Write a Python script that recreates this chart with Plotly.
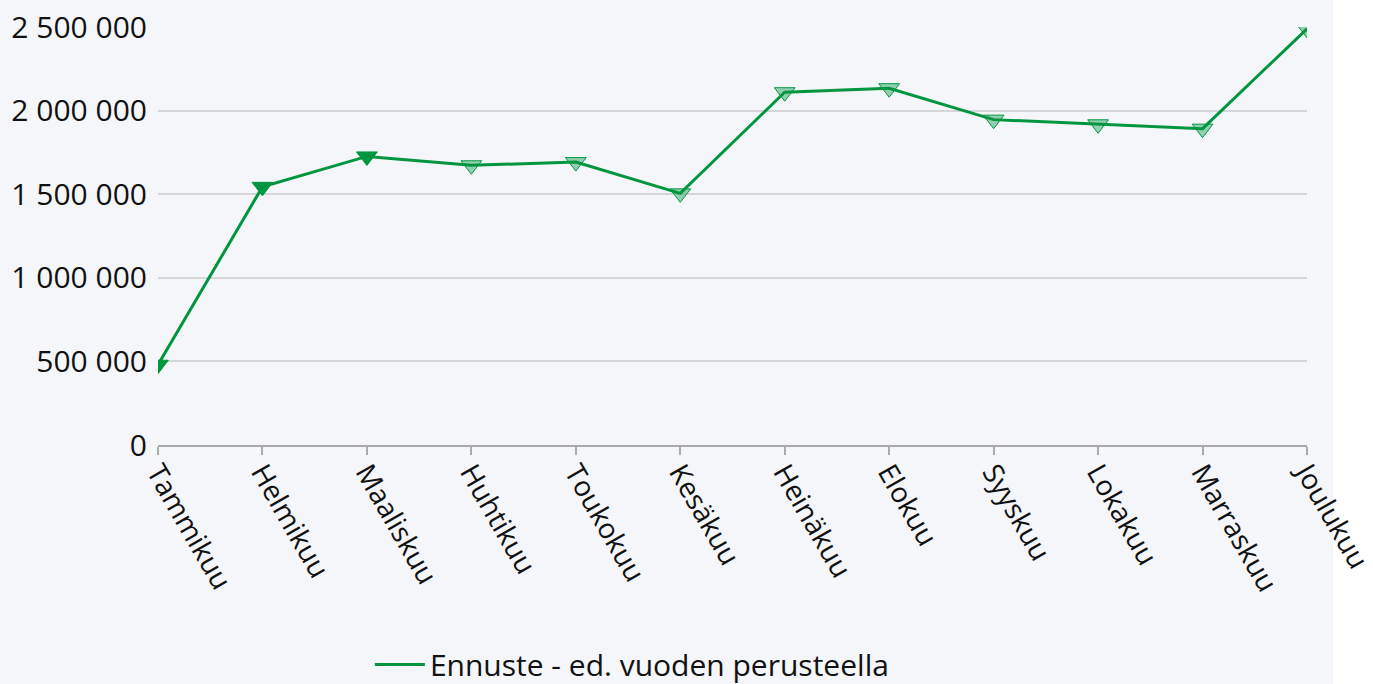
import plotly.graph_objects as go

months = ["Tammikuu", "Helmikuu", "Maaliskuu", "Huhtikuu", "Toukokuu", "Kesäkuu",
          "Heinäkuu", "Elokuu", "Syyskuu", "Lokakuu", "Marraskuu", "Joulukuu"]
forecast = [480000, 1544000, 1726000, 1673000, 1692000, 1505000,
            2110000, 2134000, 1946000, 1918000, 1892000, 2489000]
actual_known = [True, True, True, False, False, False,
                False, False, False, False, False, False]
series_name = "Ennuste - ed. vuoden perusteella"
y_ticks = [0, 500000, 1000000, 1500000, 2000000, 2500000]

GREEN = "rgb(0,150,64)"
LIGHT = "rgba(0,150,64,0.4)"
BG = "#f4f6fa"
FONT = "Open Sans"

fig = go.Figure()
fig.add_trace(go.Scatter(
    x=months, y=forecast, mode="markers", showlegend=False,
    marker=dict(symbol="triangle-down", size=18,
                color=[GREEN if k else LIGHT for k in actual_known],
                line=dict(color=GREEN, width=1)),
    hoverinfo="skip",
))
fig.add_trace(go.Scatter(
    x=months, y=forecast, mode="lines", name=series_name,
    line=dict(color=GREEN, width=3),
))

fig.update_layout(
    width=1373, height=684,
    margin=dict(l=158, r=66, t=27, b=239, autoexpand=False),
    paper_bgcolor=BG, plot_bgcolor=BG,
    font=dict(family=FONT, size=30, color="#111"),
    separators=", ",
    showlegend=True,
    legend=dict(orientation="h", x=0.1844, xanchor="left", y=-0.525, yanchor="middle",
                bgcolor="rgba(0,0,0,0)", font=dict(size=30), itemwidth=50),
    shapes=[dict(type="rect", xref="paper", yref="paper", x0=1.0226, x1=1.2,
                 y0=-1, y1=2, fillcolor="white", line=dict(width=0), layer="below")],
)
fig.update_xaxes(
    type="category", range=[0, len(months) - 1], tickangle=60, automargin=False,
    showgrid=False, showline=True, linecolor="#aaaaaa", linewidth=2,
    ticks="outside", ticklen=8, tickwidth=2, tickcolor="#aaaaaa",
    tickfont=dict(size=28), zeroline=False, ticklabelstandoff=-10,
)
fig.update_yaxes(
    range=[0, 2500000], tickvals=y_ticks, tickformat=",d", automargin=False,
    showgrid=True, gridcolor="#d6d6d9", gridwidth=1.5, zeroline=False,
    showline=False, ticks="", ticklabelstandoff=10,
    tickfont=dict(size=30),
)

fig.write_html("out.html", config={"displayModeBar": False},
               post_script="document.body.style.margin='0';document.body.style.overflow='hidden';")
